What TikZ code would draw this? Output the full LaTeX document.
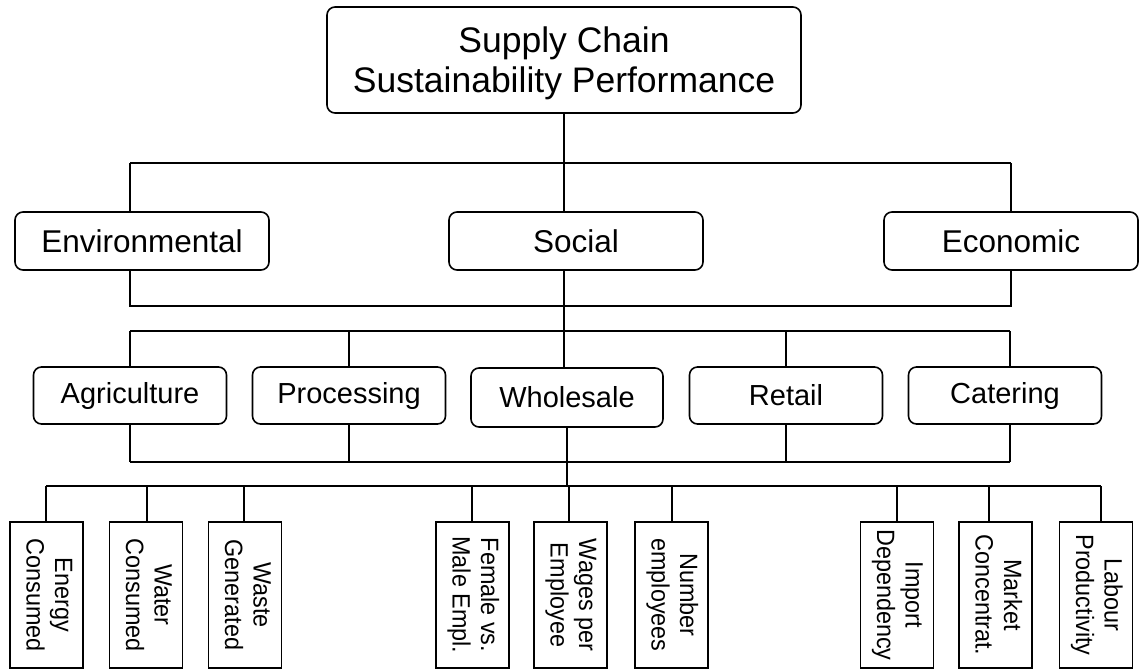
\documentclass[tikz,border=0pt]{standalone}
\usepackage{fontspec}
\setmainfont{Liberation Sans}
\newcommand{\vlab}[2]{\rotatebox{-90}{\scalebox{1}[1.07]{\begin{tabular}{@{}c@{}}#1\\#2\end{tabular}}}}
\begin{document}
\begin{tikzpicture}[x=1pt,y=-1pt,
  box/.style={draw, line width=1.6pt, rounded corners=8pt, inner sep=0pt, align=center},
  topbox/.style={box, minimum width=474pt, minimum height=106pt, font=\fontsize{35.5}{40}\selectfont},
  dimbox/.style={box, minimum width=254pt, minimum height=58pt, font=\fontsize{31.5}{36}\selectfont},
  stagebox/.style={box, minimum width=193pt, minimum height=57pt, font=\fontsize{29}{34}\selectfont},
  indbox/.style={draw, line width=1.6pt, inner sep=0pt, minimum width=73pt, minimum height=146pt, font=\fontsize{23.4}{26.5}\selectfont},
  conn/.style={line width=1.6pt}]
\useasboundingbox (0,0) rectangle (1139,670);

% nodes
\node[topbox, text depth=0pt] (top) at (564,60) {Supply Chain\\Sustainability Performance};
\node[dimbox] (env) at (142,241) {Environmental};
\node[dimbox] (soc) at (576,241) {Social};
\node[dimbox] (eco) at (1011,241) {Economic};

\node[stagebox] (agr) at (130,395.5) {Agriculture};
\node[stagebox] (pro) at (349,395.5) {Processing};
\node[box, minimum width=192pt, minimum height=59pt, font=\fontsize{29}{34}\selectfont] (who) at (567,397.5) {Wholesale};
\node[stagebox] (ret) at (786,395.5) {Retail};
\node[stagebox] (cat) at (1005,395.5) {Catering};

\node[indbox] (eng) at (46.5,595) {\vlab{Energy}{Consumed}};
\node[indbox] (wat) at (146,595) {\vlab{Water}{Consumed}};
\node[indbox] (was) at (245,595) {\vlab{Waste}{Generated}};
\node[indbox] (fem) at (472.5,595) {\vlab{Female vs.}{Male Empl.}};
\node[indbox] (wag) at (570.5,595) {\vlab{Wages per}{Employee}};
\node[indbox] (num) at (671.5,595) {\vlab{Number}{employees}};
\node[indbox] (imp) at (897,595) {\vlab{Import}{Dependency}};
\node[indbox] (mkt) at (995.5,595) {\vlab{Market}{Concentrat.}};
\node[indbox] (lab) at (1096,595) {\vlab{Labour}{Productivity}};

% junction coordinates
\coordinate (a1) at (130,163);
\coordinate (a2) at (564,163);
\coordinate (a3) at (1011,163);
\coordinate (b1) at (130,306);
\coordinate (b2) at (564,306);
\coordinate (b3) at (1011,306);
\coordinate (cA) at (130,331);
\coordinate (cP) at (349,331);
\coordinate (cW) at (564,331);
\coordinate (cR) at (786,331);
\coordinate (cC) at (1010,331);
\coordinate (dA) at (130,462);
\coordinate (dP) at (349,462);
\coordinate (dW) at (567,462);
\coordinate (dR) at (786,462);
\coordinate (dC) at (1010,462);
\coordinate (eL) at (46,486);
\coordinate (eR) at (1101,486);
\coordinate (eW) at (567,486);

% top level
\draw[conn] (top.south) -- (a2);
\draw[conn] (a1) -- (a3);
\draw[conn] (a1) -- (a1 |- env.north);
\draw[conn] (a2) -- (a2 |- soc.north);
\draw[conn] (a3) -- (eco.north);

% dimensions joined
\draw[conn] (b1 |- env.south) -- (b1) -- (b3) -- (eco.south);
\draw[conn] (b2 |- soc.south) -- (b2) -- (cW);

% stages
\draw[conn] (cA) -- (cC);
\draw[conn] (cA) -- (agr.north);
\draw[conn] (cP) -- (pro.north);
\draw[conn] (cW) -- (cW |- who.north);
\draw[conn] (cR) -- (ret.north);
\draw[conn] (cC) -- (cC |- cat.north);

\draw[conn] (agr.south) -- (dA);
\draw[conn] (pro.south) -- (dP);
\draw[conn] (who.south) -- (dW);
\draw[conn] (ret.south) -- (dR);
\draw[conn] (dC |- cat.south) -- (dC);
\draw[conn] (dA) -- (dC);
\draw[conn] (dW) -- (eW);

% indicators
\draw[conn] (eL) -- (eR);
\draw[conn] (eL) -- (eL |- eng.north);
\draw[conn] (147,486) -- (147,486 |- wat.north);
\draw[conn] (244,486) -- (244,486 |- was.north);
\draw[conn] (472,486) -- (472,486 |- fem.north);
\draw[conn] (569,486) -- (569,486 |- wag.north);
\draw[conn] (672,486) -- (672,486 |- num.north);
\draw[conn] (897,486) -- (imp.north);
\draw[conn] (989,486) -- (989,486 |- mkt.north);
\draw[conn] (eR) -- (eR |- lab.north);
\end{tikzpicture}
\end{document}
